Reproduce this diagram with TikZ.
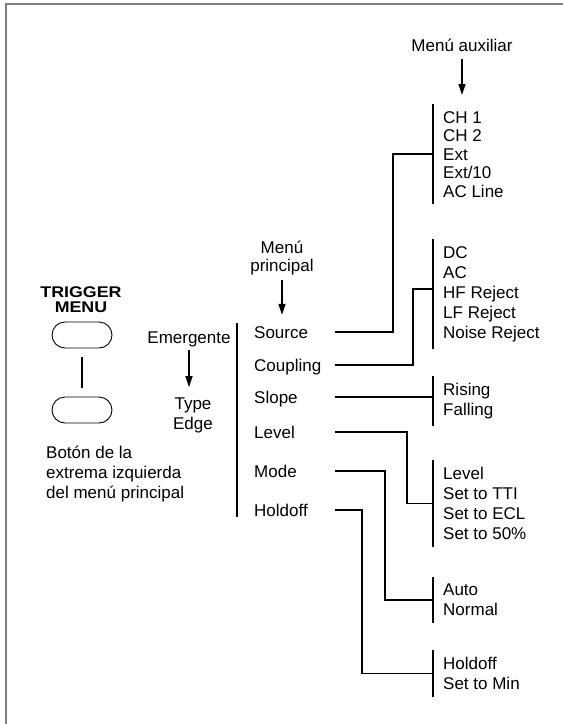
\documentclass[tikz,border=0pt]{standalone}
\usepackage{fontspec}
\setmainfont{Liberation Sans}
\newfontfamily\btnfont{Liberation Sans}[FakeStretch=1.15]
\usepackage{tikz}
\usetikzlibrary{arrows.meta,positioning}

\begin{document}
\begin{tikzpicture}[
  x=1pt,y=-1pt,
  font=\fontsize{17}{20}\selectfont,
  txt/.style={inner sep=3pt,align=left},
  item/.style={inner sep=3pt,anchor=west,text width=78pt,text height=12pt,text depth=0pt},
  sub/.style={anchor=north west,inner xsep=10pt,inner ysep=7pt,align=left},
  bar/.style={line width=1.9pt},
  conn/.style={line width=1.9pt},
  arr/.style={-{Triangle[length=11pt,width=7pt]},line width=1.3pt},
  btn/.style={draw,line width=0.9pt,rounded corners=13pt,minimum width=60pt,minimum height=26pt}
]
\useasboundingbox (0,0) rectangle (563,724);
\draw[gray,line width=1.6pt] (6,724) -- (6,4) -- (563,4);

% front panel button
\node[txt,align=center,font=\btnfont\bfseries\fontsize{15.5}{15}\selectfont] (trig) at (81,300) {TRIGGER\\MENU};
\node[btn] (btn1) at (82,335) {};
\node[btn] (btn2) at (82,410) {};
\draw[conn,shorten <=9pt,shorten >=9pt] (btn1) -- (btn2);
\node[txt,anchor=west] (note) at (43,474) {Botón de la\\extrema izquierda\\del menú principal};

% pop-up selection
\node[txt] (emer) at (189,339) {Emergente};
\node[txt,align=center] (typ) at (193,415) {Type\\Edge};
\draw[arr,shorten >=7pt] (emer.south) -- (emer.south |- typ.north);

% main menu
\node[txt,align=center,font=\fontsize{17}{18}\selectfont] (mainlbl) at (282,258) {Menú\\principal};
\node[item] (src) at (251,332) {Source};
\node[item] (cpl) at (251,365) {Coupling};
\node[item] (slp) at (251,397) {Slope};
\node[item] (lvl) at (251,432) {Level};
\node[item] (mod) at (251,471) {Mode};
\node[item] (hld) at (251,510) {Holdoff};
\coordinate (mtop) at (237,323);
\coordinate (mbot) at (237,517);
\draw[bar] (mtop) -- (mbot);
\draw[arr,shorten <=2pt,shorten >=8pt] (mainlbl.south) -- (mainlbl.south |- src.north);

% side menus
\node[txt] (auxlbl) at (462,45) {Menú auxiliar};
\node[sub,font=\fontsize{17}{18.5}\selectfont] (aux1) at (433,104) {CH 1\\CH 2\\Ext\\Ext/10\\AC Line};
\node[sub] (aux2) at (433,239) {DC\\AC\\HF Reject\\LF Reject\\Noise Reject};
\node[sub] (rf)   at (433,376) {Rising\\Falling};
\node[sub] (lvg)  at (433,460) {Level\\Set to TTI\\Set to ECL\\Set to 50\%};
\node[sub] (mdg)  at (433,577) {Auto\\Normal};
\node[sub] (hog)  at (433,650) {Holdoff\\Set to Min};
\foreach \g in {aux1,aux2,rf,lvg,mdg,hog}
  \draw[bar] (\g.north west) -- (\g.south west);
\draw[arr,shorten <=4pt,shorten >=9pt] (auxlbl.south) -- (auxlbl.south |- aux1.north);

% connectors from main menu to side menus
\draw[conn] (src.east) -| ([xshift=-40pt]aux1.west) -- (aux1.west);
\draw[conn] (cpl.east) -| ([xshift=-20pt,yshift=5pt]aux2.west) -- ([yshift=5pt]aux2.west);
\draw[conn] (slp.east) -- (slp.east -| rf.west);
\draw[conn] (lvl.east) -| ([xshift=-26pt]lvg.west) -- (lvg.west);
\draw[conn] (mod.east) -| ([xshift=-48pt]mdg.west) -- (mdg.west);
\draw[conn] (hld.east) -| ([xshift=-71pt]hog.west) -- (hog.west);

\end{tikzpicture}
\end{document}
